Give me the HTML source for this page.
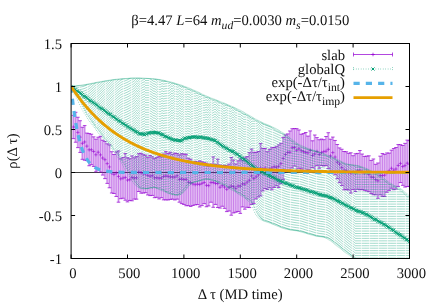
<!DOCTYPE html>
<html><head><meta charset="utf-8"><style>
html,body{margin:0;padding:0;background:#fff}
svg{display:block;will-change:transform}
text{font-family:"Liberation Serif",serif;font-size:14.67px;fill:#000;text-rendering:geometricPrecision}
</style></head><body>
<svg width="436" height="305" viewBox="0 0 436 305">
<rect width="436" height="305" fill="#fff"/>
<path d="M71.1 172.5H409.5" stroke="#000" stroke-width="1" opacity="0.75"/>
<clipPath id="c"><rect x="71.1" y="43.5" width="338.4" height="215"/></clipPath>
<g clip-path="url(#c)">
<path d="M72.23 138.61h2.26V115.34h-2.26zM74.48 142.23h2.26V112.29h-2.26zM76.74 147.64h2.26V117.26h-2.26zM78.99 152.45h2.26V120.73h-2.26zM81.25 159.32h2.26V127.26h-2.26zM83.51 160.23h2.26V125.58h-2.26zM85.76 160.58h2.26V133.08h-2.26zM88.02 165.75h2.26V133.57h-2.26zM90.27 164.7h2.26V134.22h-2.26zM92.53 166.43h2.26V136.86h-2.26zM94.79 171.84h2.26V139.16h-2.26zM97.04 170.12h2.26V137.22h-2.26zM99.3 172.08h2.26V136.34h-2.26zM101.55 175.05h2.26V140.23h-2.26zM103.81 178.63h2.26V141.44h-2.26zM106.07 183.38h2.26V143.83h-2.26zM108.32 187.78h2.26V144.89h-2.26zM110.58 193h2.26V151.74h-2.26zM112.83 193.49h2.26V154.51h-2.26zM115.09 196.47h2.26V151.96h-2.26zM117.35 202.2h2.26V150.92h-2.26zM119.6 198.72h2.26V158.8h-2.26zM121.86 198.22h2.26V157.36h-2.26zM124.11 200.21h2.26V153.6h-2.26zM126.37 201.9h2.26V157.72h-2.26zM128.63 200.44h2.26V158.75h-2.26zM130.88 200.81h2.26V155.9h-2.26zM133.14 199.12h2.26V157.86h-2.26zM135.39 199.16h2.26V156.62h-2.26zM137.65 191.51h2.26V153.7h-2.26zM139.91 193.13h2.26V153.3h-2.26zM142.16 193.05h2.26V154.7h-2.26zM144.42 192.69h2.26V155.23h-2.26zM146.67 194.94h2.26V157.29h-2.26zM148.93 195.62h2.26V155.43h-2.26zM151.19 195.39h2.26V156.85h-2.26zM153.44 197.68h2.26V158.62h-2.26zM155.7 197.32h2.26V157.39h-2.26zM157.95 198.95h2.26V156.29h-2.26zM160.21 197.71h2.26V156.83h-2.26zM162.47 199.85h2.26V153.96h-2.26zM164.72 199.89h2.26V151.61h-2.26zM166.98 199.96h2.26V153.46h-2.26zM169.23 199.38h2.26V152.28h-2.26zM171.49 199.13h2.26V154.21h-2.26zM173.75 199.96h2.26V153.1h-2.26zM176 199.13h2.26V153.6h-2.26zM178.26 202.18h2.26V154.96h-2.26zM180.51 203.64h2.26V153.74h-2.26zM182.77 204.46h2.26V154.03h-2.26zM185.03 205.74h2.26V154.27h-2.26zM187.28 205.61h2.26V158.17h-2.26zM189.54 206.45h2.26V159.27h-2.26zM191.79 205.47h2.26V162.22h-2.26zM194.05 204.81h2.26V161.3h-2.26zM196.31 204.57h2.26V161.93h-2.26zM198.56 206.98h2.26V160.92h-2.26zM200.82 205.61h2.26V161.76h-2.26zM203.07 203.68h2.26V162.73h-2.26zM205.33 206.75h2.26V163.11h-2.26zM207.59 205.92h2.26V165.99h-2.26zM209.84 202.23h2.26V164.03h-2.26zM212.1 207.3h2.26V156.9h-2.26zM214.35 204.42h2.26V164.37h-2.26zM216.61 207.53h2.26V159.18h-2.26zM218.87 208.08h2.26V164.98h-2.26zM221.12 206.26h2.26V165.43h-2.26zM223.38 208.37h2.26V165.29h-2.26zM225.63 211.62h2.26V165.65h-2.26zM227.89 211.01h2.26V164.05h-2.26zM230.15 215.19h2.26V157.52h-2.26zM232.4 212.94h2.26V160.01h-2.26zM234.66 212.23h2.26V163.94h-2.26zM236.91 211.49h2.26V160.86h-2.26zM239.17 213.38h2.26V158.98h-2.26zM241.43 206.93h2.26V160.71h-2.26zM243.68 209.19h2.26V157.84h-2.26zM245.94 207.28h2.26V156.59h-2.26zM248.19 207.56h2.26V152.66h-2.26zM250.45 204.41h2.26V149.02h-2.26zM252.71 203.59h2.26V152.24h-2.26zM254.96 198.91h2.26V152.45h-2.26zM257.22 197h2.26V151.5h-2.26zM259.47 195.87h2.26V143.59h-2.26zM261.73 190.92h2.26V148.38h-2.26zM263.99 188.63h2.26V148.45h-2.26zM266.24 189.6h2.26V151.7h-2.26zM268.5 187.8h2.26V149.41h-2.26zM270.75 189.8h2.26V147.69h-2.26zM273.01 187.47h2.26V147.44h-2.26zM275.27 185.8h2.26V146.74h-2.26zM277.52 187.46h2.26V144.92h-2.26zM279.78 183.76h2.26V143.28h-2.26zM282.03 179.38h2.26V137.56h-2.26zM284.29 171.78h2.26V134.96h-2.26zM286.55 170.79h2.26V133.92h-2.26zM288.8 171.27h2.26V130.98h-2.26zM291.06 167.93h2.26V128.74h-2.26zM293.31 166.02h2.26V128.56h-2.26zM295.57 170.85h2.26V128.65h-2.26zM297.83 168.31h2.26V129.97h-2.26zM300.08 168.9h2.26V134.28h-2.26zM302.34 170.49h2.26V133.55h-2.26zM304.59 171.71h2.26V132.53h-2.26zM306.85 169.95h2.26V136.1h-2.26zM309.11 171.97h2.26V130.92h-2.26zM311.36 167.59h2.26V140.8h-2.26zM313.62 171.82h2.26V135h-2.26zM315.87 165.63h2.26V137.61h-2.26zM318.13 168.27h2.26V139.75h-2.26zM320.39 165.55h2.26V139.06h-2.26zM322.64 166h2.26V139.66h-2.26zM324.9 165.41h2.26V136.5h-2.26zM327.15 168.61h2.26V132.72h-2.26zM329.41 171.09h2.26V139.2h-2.26zM331.67 171.69h2.26V137.09h-2.26zM333.92 174.8h2.26V140.46h-2.26zM336.18 178.7h2.26V144.49h-2.26zM338.43 182.66h2.26V147.92h-2.26zM340.69 185.58h2.26V149.25h-2.26zM342.95 189.8h2.26V151.51h-2.26zM345.2 189.65h2.26V151.77h-2.26zM347.46 190.04h2.26V153.29h-2.26zM349.71 193.07h2.26V152.8h-2.26zM351.97 189.57h2.26V155.71h-2.26zM354.23 191.47h2.26V153.78h-2.26zM356.48 189.22h2.26V153.42h-2.26zM358.74 189.84h2.26V150.52h-2.26zM360.99 189.43h2.26V154.04h-2.26zM363.25 190.32h2.26V156.43h-2.26zM365.51 191.01h2.26V156.11h-2.26zM367.76 191.7h2.26V155.83h-2.26zM370.02 193.55h2.26V160.42h-2.26zM372.27 194.74h2.26V158.99h-2.26zM374.53 194.83h2.26V164.3h-2.26zM376.79 198.3h2.26V163h-2.26zM379.04 194.87h2.26V156.16h-2.26zM381.3 196.39h2.26V153.54h-2.26zM383.55 196.41h2.26V154.36h-2.26zM385.81 192.28h2.26V152.95h-2.26zM388.07 190.4h2.26V153.08h-2.26zM390.32 188.24h2.26V150.19h-2.26zM392.58 189.74h2.26V148.53h-2.26zM394.83 189.11h2.26V147.5h-2.26zM397.09 186.45h2.26V144.59h-2.26zM399.35 182.58h2.26V144.66h-2.26zM401.6 185.34h2.26V145.49h-2.26zM403.86 187.07h2.26V143.36h-2.26zM406.11 186.56h2.26V140.14h-2.26zM408.37 186.37h2.26V140.67h-2.26z" fill="#9400d3" fill-opacity="0.26" stroke="none"/>
<g stroke="#9400d3" stroke-width="0.9" fill="none"><path stroke-opacity="0.36" d="M73.36 138.61V115.34M75.61 142.23V112.29M77.87 147.64V117.26M80.12 152.45V120.73M82.38 159.32V127.26M84.64 160.23V125.58M86.89 160.58V133.08M89.15 165.75V133.57M91.4 164.7V134.22M93.66 166.43V136.86M95.92 171.84V139.16M98.17 170.12V137.22M100.43 172.08V136.34M102.68 175.05V140.23M104.94 178.63V141.44M107.2 183.38V143.83M109.45 187.78V144.89M111.71 193V151.74M113.96 193.49V154.51M116.22 196.47V151.96M118.48 202.2V150.92M120.73 198.72V158.8M122.99 198.22V157.36M125.24 200.21V153.6M127.5 201.9V157.72M129.76 200.44V158.75M132.01 200.81V155.9M134.27 199.12V157.86M136.52 199.16V156.62M138.78 191.51V153.7M141.04 193.13V153.3M143.29 193.05V154.7M145.55 192.69V155.23M147.8 194.94V157.29M150.06 195.62V155.43M152.32 195.39V156.85M154.57 197.68V158.62M156.83 197.32V157.39M159.08 198.95V156.29M161.34 197.71V156.83M163.6 199.85V153.96M165.85 199.89V151.61M168.11 199.96V153.46M170.36 199.38V152.28M172.62 199.13V154.21M174.88 199.96V153.1M177.13 199.13V153.6M179.39 202.18V154.96M181.64 203.64V153.74M183.9 204.46V154.03M186.16 205.74V154.27M188.41 205.61V158.17M190.67 206.45V159.27M192.92 205.47V162.22M195.18 204.81V161.3M197.44 204.57V161.93M199.69 206.98V160.92M201.95 205.61V161.76M204.2 203.68V162.73M206.46 206.75V163.11M208.72 205.92V165.99M210.97 202.23V164.03M213.23 207.3V156.9M215.48 204.42V164.37M217.74 207.53V159.18M220 208.08V164.98M222.25 206.26V165.43M224.51 208.37V165.29M226.76 211.62V165.65M229.02 211.01V164.05M231.28 215.19V157.52M233.53 212.94V160.01M235.79 212.23V163.94M238.04 211.49V160.86M240.3 213.38V158.98M242.56 206.93V160.71M244.81 209.19V157.84M247.07 207.28V156.59M249.32 207.56V152.66M251.58 204.41V149.02M253.84 203.59V152.24M256.09 198.91V152.45M258.35 197V151.5M260.6 195.87V143.59M262.86 190.92V148.38M265.12 188.63V148.45M267.37 189.6V151.7M269.63 187.8V149.41M271.88 189.8V147.69M274.14 187.47V147.44M276.4 185.8V146.74M278.65 187.46V144.92M280.91 183.76V143.28M283.16 179.38V137.56M285.42 171.78V134.96M287.68 170.79V133.92M289.93 171.27V130.98M292.19 167.93V128.74M294.44 166.02V128.56M296.7 170.85V128.65M298.96 168.31V129.97M301.21 168.9V134.28M303.47 170.49V133.55M305.72 171.71V132.53M307.98 169.95V136.1M310.24 171.97V130.92M312.49 167.59V140.8M314.75 171.82V135M317 165.63V137.61M319.26 168.27V139.75M321.52 165.55V139.06M323.77 166V139.66M326.03 165.41V136.5M328.28 168.61V132.72M330.54 171.09V139.2M332.8 171.69V137.09M335.05 174.8V140.46M337.31 178.7V144.49M339.56 182.66V147.92M341.82 185.58V149.25M344.08 189.8V151.51M346.33 189.65V151.77M348.59 190.04V153.29M350.84 193.07V152.8M353.1 189.57V155.71M355.36 191.47V153.78M357.61 189.22V153.42M359.87 189.84V150.52M362.12 189.43V154.04M364.38 190.32V156.43M366.64 191.01V156.11M368.89 191.7V155.83M371.15 193.55V160.42M373.4 194.74V158.99M375.66 194.83V164.3M377.92 198.3V163M380.17 194.87V156.16M382.43 196.39V153.54M384.68 196.41V154.36M386.94 192.28V152.95M389.2 190.4V153.08M391.45 188.24V150.19M393.71 189.74V148.53M395.96 189.11V147.5M398.22 186.45V144.59M400.48 182.58V144.66M402.73 185.34V145.49M404.99 187.07V143.36M407.24 186.56V140.14M409.5 186.37V140.67"/><path stroke-opacity="0.8" d="M71.56 138.61h3.6M71.56 115.34h3.6M73.81 142.23h3.6M73.81 112.29h3.6M76.07 147.64h3.6M76.07 117.26h3.6M78.32 152.45h3.6M78.32 120.73h3.6M80.58 159.32h3.6M80.58 127.26h3.6M82.84 160.23h3.6M82.84 125.58h3.6M85.09 160.58h3.6M85.09 133.08h3.6M87.35 165.75h3.6M87.35 133.57h3.6M89.6 164.7h3.6M89.6 134.22h3.6M91.86 166.43h3.6M91.86 136.86h3.6M94.12 171.84h3.6M94.12 139.16h3.6M96.37 170.12h3.6M96.37 137.22h3.6M98.63 172.08h3.6M98.63 136.34h3.6M100.88 175.05h3.6M100.88 140.23h3.6M103.14 178.63h3.6M103.14 141.44h3.6M105.4 183.38h3.6M105.4 143.83h3.6M107.65 187.78h3.6M107.65 144.89h3.6M109.91 193h3.6M109.91 151.74h3.6M112.16 193.49h3.6M112.16 154.51h3.6M114.42 196.47h3.6M114.42 151.96h3.6M116.68 202.2h3.6M116.68 150.92h3.6M118.93 198.72h3.6M118.93 158.8h3.6M121.19 198.22h3.6M121.19 157.36h3.6M123.44 200.21h3.6M123.44 153.6h3.6M125.7 201.9h3.6M125.7 157.72h3.6M127.96 200.44h3.6M127.96 158.75h3.6M130.21 200.81h3.6M130.21 155.9h3.6M132.47 199.12h3.6M132.47 157.86h3.6M134.72 199.16h3.6M134.72 156.62h3.6M136.98 191.51h3.6M136.98 153.7h3.6M139.24 193.13h3.6M139.24 153.3h3.6M141.49 193.05h3.6M141.49 154.7h3.6M143.75 192.69h3.6M143.75 155.23h3.6M146 194.94h3.6M146 157.29h3.6M148.26 195.62h3.6M148.26 155.43h3.6M150.52 195.39h3.6M150.52 156.85h3.6M152.77 197.68h3.6M152.77 158.62h3.6M155.03 197.32h3.6M155.03 157.39h3.6M157.28 198.95h3.6M157.28 156.29h3.6M159.54 197.71h3.6M159.54 156.83h3.6M161.8 199.85h3.6M161.8 153.96h3.6M164.05 199.89h3.6M164.05 151.61h3.6M166.31 199.96h3.6M166.31 153.46h3.6M168.56 199.38h3.6M168.56 152.28h3.6M170.82 199.13h3.6M170.82 154.21h3.6M173.08 199.96h3.6M173.08 153.1h3.6M175.33 199.13h3.6M175.33 153.6h3.6M177.59 202.18h3.6M177.59 154.96h3.6M179.84 203.64h3.6M179.84 153.74h3.6M182.1 204.46h3.6M182.1 154.03h3.6M184.36 205.74h3.6M184.36 154.27h3.6M186.61 205.61h3.6M186.61 158.17h3.6M188.87 206.45h3.6M188.87 159.27h3.6M191.12 205.47h3.6M191.12 162.22h3.6M193.38 204.81h3.6M193.38 161.3h3.6M195.64 204.57h3.6M195.64 161.93h3.6M197.89 206.98h3.6M197.89 160.92h3.6M200.15 205.61h3.6M200.15 161.76h3.6M202.4 203.68h3.6M202.4 162.73h3.6M204.66 206.75h3.6M204.66 163.11h3.6M206.92 205.92h3.6M206.92 165.99h3.6M209.17 202.23h3.6M209.17 164.03h3.6M211.43 207.3h3.6M211.43 156.9h3.6M213.68 204.42h3.6M213.68 164.37h3.6M215.94 207.53h3.6M215.94 159.18h3.6M218.2 208.08h3.6M218.2 164.98h3.6M220.45 206.26h3.6M220.45 165.43h3.6M222.71 208.37h3.6M222.71 165.29h3.6M224.96 211.62h3.6M224.96 165.65h3.6M227.22 211.01h3.6M227.22 164.05h3.6M229.48 215.19h3.6M229.48 157.52h3.6M231.73 212.94h3.6M231.73 160.01h3.6M233.99 212.23h3.6M233.99 163.94h3.6M236.24 211.49h3.6M236.24 160.86h3.6M238.5 213.38h3.6M238.5 158.98h3.6M240.76 206.93h3.6M240.76 160.71h3.6M243.01 209.19h3.6M243.01 157.84h3.6M245.27 207.28h3.6M245.27 156.59h3.6M247.52 207.56h3.6M247.52 152.66h3.6M249.78 204.41h3.6M249.78 149.02h3.6M252.04 203.59h3.6M252.04 152.24h3.6M254.29 198.91h3.6M254.29 152.45h3.6M256.55 197h3.6M256.55 151.5h3.6M258.8 195.87h3.6M258.8 143.59h3.6M261.06 190.92h3.6M261.06 148.38h3.6M263.32 188.63h3.6M263.32 148.45h3.6M265.57 189.6h3.6M265.57 151.7h3.6M267.83 187.8h3.6M267.83 149.41h3.6M270.08 189.8h3.6M270.08 147.69h3.6M272.34 187.47h3.6M272.34 147.44h3.6M274.6 185.8h3.6M274.6 146.74h3.6M276.85 187.46h3.6M276.85 144.92h3.6M279.11 183.76h3.6M279.11 143.28h3.6M281.36 179.38h3.6M281.36 137.56h3.6M283.62 171.78h3.6M283.62 134.96h3.6M285.88 170.79h3.6M285.88 133.92h3.6M288.13 171.27h3.6M288.13 130.98h3.6M290.39 167.93h3.6M290.39 128.74h3.6M292.64 166.02h3.6M292.64 128.56h3.6M294.9 170.85h3.6M294.9 128.65h3.6M297.16 168.31h3.6M297.16 129.97h3.6M299.41 168.9h3.6M299.41 134.28h3.6M301.67 170.49h3.6M301.67 133.55h3.6M303.92 171.71h3.6M303.92 132.53h3.6M306.18 169.95h3.6M306.18 136.1h3.6M308.44 171.97h3.6M308.44 130.92h3.6M310.69 167.59h3.6M310.69 140.8h3.6M312.95 171.82h3.6M312.95 135h3.6M315.2 165.63h3.6M315.2 137.61h3.6M317.46 168.27h3.6M317.46 139.75h3.6M319.72 165.55h3.6M319.72 139.06h3.6M321.97 166h3.6M321.97 139.66h3.6M324.23 165.41h3.6M324.23 136.5h3.6M326.48 168.61h3.6M326.48 132.72h3.6M328.74 171.09h3.6M328.74 139.2h3.6M331 171.69h3.6M331 137.09h3.6M333.25 174.8h3.6M333.25 140.46h3.6M335.51 178.7h3.6M335.51 144.49h3.6M337.76 182.66h3.6M337.76 147.92h3.6M340.02 185.58h3.6M340.02 149.25h3.6M342.28 189.8h3.6M342.28 151.51h3.6M344.53 189.65h3.6M344.53 151.77h3.6M346.79 190.04h3.6M346.79 153.29h3.6M349.04 193.07h3.6M349.04 152.8h3.6M351.3 189.57h3.6M351.3 155.71h3.6M353.56 191.47h3.6M353.56 153.78h3.6M355.81 189.22h3.6M355.81 153.42h3.6M358.07 189.84h3.6M358.07 150.52h3.6M360.32 189.43h3.6M360.32 154.04h3.6M362.58 190.32h3.6M362.58 156.43h3.6M364.84 191.01h3.6M364.84 156.11h3.6M367.09 191.7h3.6M367.09 155.83h3.6M369.35 193.55h3.6M369.35 160.42h3.6M371.6 194.74h3.6M371.6 158.99h3.6M373.86 194.83h3.6M373.86 164.3h3.6M376.12 198.3h3.6M376.12 163h3.6M378.37 194.87h3.6M378.37 156.16h3.6M380.63 196.39h3.6M380.63 153.54h3.6M382.88 196.41h3.6M382.88 154.36h3.6M385.14 192.28h3.6M385.14 152.95h3.6M387.4 190.4h3.6M387.4 153.08h3.6M389.65 188.24h3.6M389.65 150.19h3.6M391.91 189.74h3.6M391.91 148.53h3.6M394.16 189.11h3.6M394.16 147.5h3.6M396.42 186.45h3.6M396.42 144.59h3.6M398.68 182.58h3.6M398.68 144.66h3.6M400.93 185.34h3.6M400.93 145.49h3.6M403.19 187.07h3.6M403.19 143.36h3.6M405.44 186.56h3.6M405.44 140.14h3.6M407.7 186.37h3.6M407.7 140.67h3.6"/><path stroke-opacity="0.6" d="M69.4 86.5h3.4M71.1 84.8v3.4M71.66 127.03h3.4M73.36 125.33v3.4M73.91 127.05h3.4M75.61 125.35v3.4M76.17 132.42h3.4M77.87 130.72v3.4M78.42 137.12h3.4M80.12 135.42v3.4M80.68 143.32h3.4M82.38 141.62v3.4M82.94 141.98h3.4M84.64 140.28v3.4M85.19 146.12h3.4M86.89 144.42v3.4M87.45 149.8h3.4M89.15 148.1v3.4M89.7 149.83h3.4M91.4 148.13v3.4M91.96 151.51h3.4M93.66 149.81v3.4M94.22 154.75h3.4M95.92 153.05v3.4M96.47 152.22h3.4M98.17 150.52v3.4M98.73 154.88h3.4M100.43 153.18v3.4M100.98 158.02h3.4M102.68 156.32v3.4M103.24 159.68h3.4M104.94 157.98v3.4M105.5 163.62h3.4M107.2 161.92v3.4M107.75 166.94h3.4M109.45 165.24v3.4M110.01 173.04h3.4M111.71 171.34v3.4M112.26 174.51h3.4M113.96 172.81v3.4M114.52 173.07h3.4M116.22 171.37v3.4M116.78 176.44h3.4M118.48 174.74v3.4M119.03 178.85h3.4M120.73 177.15v3.4M121.29 178.05h3.4M122.99 176.35v3.4M123.54 177.44h3.4M125.24 175.74v3.4M125.8 180.1h3.4M127.5 178.4v3.4M128.06 179.74h3.4M129.76 178.04v3.4M130.31 177.53h3.4M132.01 175.83v3.4M132.57 177.99h3.4M134.27 176.29v3.4M134.82 177.88h3.4M136.52 176.18v3.4M137.08 172.02h3.4M138.78 170.32v3.4M139.34 172.64h3.4M141.04 170.94v3.4M141.59 173.81h3.4M143.29 172.11v3.4M143.85 173.78h3.4M145.55 172.08v3.4M146.1 175.34h3.4M147.8 173.64v3.4M148.36 176.26h3.4M150.06 174.56v3.4M150.62 175.68h3.4M152.32 173.98v3.4M152.87 177.84h3.4M154.57 176.14v3.4M155.13 177.79h3.4M156.83 176.09v3.4M157.38 178.13h3.4M159.08 176.43v3.4M159.64 178.08h3.4M161.34 176.38v3.4M161.9 176.45h3.4M163.6 174.75v3.4M164.15 175.92h3.4M165.85 174.22v3.4M166.41 176.32h3.4M168.11 174.62v3.4M168.66 176.97h3.4M170.36 175.27v3.4M170.92 177.01h3.4M172.62 175.31v3.4M173.18 177.05h3.4M174.88 175.35v3.4M175.43 175.82h3.4M177.13 174.12v3.4M177.69 179.32h3.4M179.39 177.62v3.4M179.94 178.95h3.4M181.64 177.25v3.4M182.2 179.54h3.4M183.9 177.84v3.4M184.46 179.27h3.4M186.16 177.57v3.4M186.71 182.15h3.4M188.41 180.45v3.4M188.97 182.78h3.4M190.67 181.08v3.4M191.22 183.89h3.4M192.92 182.19v3.4M193.48 184.66h3.4M195.18 182.96v3.4M195.74 184.09h3.4M197.44 182.39v3.4M197.99 184.47h3.4M199.69 182.77v3.4M200.25 183.36h3.4M201.95 181.66v3.4M202.5 182.46h3.4M204.2 180.76v3.4M204.76 185.31h3.4M206.46 183.61v3.4M207.02 185.65h3.4M208.72 183.95v3.4M209.27 182.56h3.4M210.97 180.86v3.4M211.53 182.49h3.4M213.23 180.79v3.4M213.78 183.47h3.4M215.48 181.77v3.4M216.04 183.62h3.4M217.74 181.92v3.4M218.3 187.25h3.4M220 185.55v3.4M220.55 185.65h3.4M222.25 183.95v3.4M222.81 187.12h3.4M224.51 185.42v3.4M225.06 189.32h3.4M226.76 187.62v3.4M227.32 187.3h3.4M229.02 185.6v3.4M229.58 186.08h3.4M231.28 184.38v3.4M231.83 186.63h3.4M233.53 184.93v3.4M234.09 188.32h3.4M235.79 186.62v3.4M236.34 186.08h3.4M238.04 184.38v3.4M238.6 186.08h3.4M240.3 184.38v3.4M240.86 183.83h3.4M242.56 182.13v3.4M243.11 184.17h3.4M244.81 182.47v3.4M245.37 182.2h3.4M247.07 180.5v3.4M247.62 180.29h3.4M249.32 178.59v3.4M249.88 175.94h3.4M251.58 174.24v3.4M252.14 178.56h3.4M253.84 176.86v3.4M254.39 176.81h3.4M256.09 175.11v3.4M256.65 174.9h3.4M258.35 173.2v3.4M258.9 168.32h3.4M260.6 166.62v3.4M261.16 169.1h3.4M262.86 167.4v3.4M263.42 168.15h3.4M265.12 166.45v3.4M265.67 170.62h3.4M267.37 168.92v3.4M267.93 169.14h3.4M269.63 167.44v3.4M270.18 167.89h3.4M271.88 166.19v3.4M272.44 166.76h3.4M274.14 165.06v3.4M274.7 167.24h3.4M276.4 165.54v3.4M276.95 166.24h3.4M278.65 164.54v3.4M279.21 163.56h3.4M280.91 161.86v3.4M281.46 158.44h3.4M283.16 156.74v3.4M283.72 154.47h3.4M285.42 152.77v3.4M285.98 152.35h3.4M287.68 150.65v3.4M288.23 152.26h3.4M289.93 150.56v3.4M290.49 147.7h3.4M292.19 146v3.4M292.74 147.51h3.4M294.44 145.81v3.4M295 150.3h3.4M296.7 148.6v3.4M297.26 148.78h3.4M298.96 147.08v3.4M299.51 150.69h3.4M301.21 148.99v3.4M301.77 151.62h3.4M303.47 149.92v3.4M304.02 152.39h3.4M305.72 150.69v3.4M306.28 152.93h3.4M307.98 151.23v3.4M308.54 150.37h3.4M310.24 148.67v3.4M310.79 155.4h3.4M312.49 153.7v3.4M313.05 153.96h3.4M314.75 152.26v3.4M315.3 151.42h3.4M317 149.72v3.4M317.56 154.48h3.4M319.26 152.78v3.4M319.82 152.48h3.4M321.52 150.78v3.4M322.07 151.61h3.4M323.77 149.91v3.4M324.33 151.21h3.4M326.03 149.51v3.4M326.58 149.34h3.4M328.28 147.64v3.4M328.84 155.92h3.4M330.54 154.22v3.4M331.1 152.6h3.4M332.8 150.9v3.4M333.35 157.03h3.4M335.05 155.33v3.4M335.61 162.16h3.4M337.31 160.46v3.4M337.86 164.12h3.4M339.56 162.42v3.4M340.12 167.59h3.4M341.82 165.89v3.4M342.38 170.13h3.4M344.08 168.43v3.4M344.63 170.57h3.4M346.33 168.87v3.4M346.89 172.52h3.4M348.59 170.82v3.4M349.14 172.91h3.4M350.84 171.21v3.4M351.4 172.95h3.4M353.1 171.25v3.4M353.66 173.34h3.4M355.36 171.64v3.4M355.91 170.72h3.4M357.61 169.02v3.4M358.17 170.24h3.4M359.87 168.54v3.4M360.42 171.51h3.4M362.12 169.81v3.4M362.68 173.08h3.4M364.38 171.38v3.4M364.94 171.95h3.4M366.64 170.25v3.4M367.19 174.42h3.4M368.89 172.72v3.4M369.45 177.04h3.4M371.15 175.34v3.4M371.7 177.33h3.4M373.4 175.63v3.4M373.96 179.71h3.4M375.66 178.01v3.4M376.22 180.8h3.4M377.92 179.1v3.4M378.47 175.3h3.4M380.17 173.6v3.4M380.73 175.61h3.4M382.43 173.91v3.4M382.98 175.12h3.4M384.68 173.42v3.4M385.24 172.64h3.4M386.94 170.94v3.4M387.5 170.62h3.4M389.2 168.92v3.4M389.75 168.31h3.4M391.45 166.61v3.4M392.01 170.14h3.4M393.71 168.44v3.4M394.26 169.01h3.4M395.96 167.31v3.4M396.52 165.49h3.4M398.22 163.79v3.4M398.78 163.41h3.4M400.48 161.71v3.4M401.03 166.52h3.4M402.73 164.82v3.4M403.29 165.61h3.4M404.99 163.91v3.4M405.54 163.14h3.4M407.24 161.44v3.4M407.8 164.25h3.4M409.5 162.55v3.4"/></g>
<g stroke="#009e73" stroke-width="1" fill="none"><path stroke-dasharray="1 1.45" stroke-opacity="0.38" d="M72.38 88.38V86.38M73.44 90.26V86.26M74.49 92.15V86.13M75.55 94.04V86.01M76.61 95.98V85.89M77.67 98V85.77M78.72 100.1V85.65M80.33 102.28V85.52M81.39 104.5V85.39M82.45 106.71V85.26M83.5 108.89V85.11M84.56 110.99V84.95M85.62 113.01V84.77M86.68 114.93V84.58M88.28 116.74V84.38M89.34 118.42V84.16M90.4 120V83.94M91.46 121.53V83.72M92.51 123.03V83.49M93.57 124.53V83.27M94.63 126.01V83.04M95.69 127.48V82.82M97.29 128.95V82.6M98.35 130.41V82.38M99.41 131.88V82.17M100.47 133.34V81.96M101.53 134.8V81.76M102.58 136.24V81.56M103.64 137.65V81.37M104.7 139.02V81.18M106.31 140.35V80.99M107.36 141.65V80.8M108.42 142.95V80.61M109.48 144.27V80.43M110.54 145.62V80.24M111.59 147.01V80.06M112.65 148.46V79.89M113.71 149.93V79.73M115.32 151.42V79.59M116.37 152.93V79.46M117.43 154.46V79.34M118.49 156.02V79.24M119.55 157.62V79.14M120.6 159.29V79.05M121.66 161.06V78.96M122.72 162.94V78.87M124.33 164.92V78.78M125.38 166.94V78.69M126.44 168.97V78.6M127.5 170.95V78.51M128.56 172.87V78.43M129.62 174.72V78.34M130.67 176.52V78.27M132.28 178.28V78.2M133.34 179.99V78.15M134.4 181.61V78.12M135.45 182.9V78.11M136.51 184.26V78.11M137.57 185.08V78.13M138.63 186.48V78.15M139.68 187.64V78.19M141.29 186.82V78.22M142.35 188.49V78.26M143.41 188.07V78.29M144.46 187.64V78.33M145.52 188.77V78.37M146.58 188.84V78.41M147.64 188.77V78.46M148.69 188.77V78.52M150.3 187.51V78.59M151.36 188.02V78.68M152.42 188.82V78.78M153.47 187.12V78.89M154.53 187.26V79.01M155.59 187.83V79.14M156.65 188.63V79.28M157.71 187.58V79.43M159.31 188.04V79.59M160.37 187.99V79.79M161.43 189.71V80M162.49 189.55V80.23M163.54 190.03V80.49M164.6 189.75V80.75M165.66 192.02V81.02M166.72 191.88V81.29M168.32 191.89V81.57M169.38 193.86V81.85M170.44 192.94V82.14M171.5 194.41V82.45M172.55 194.58V82.76M173.61 193.84V83.09M174.67 195.03V83.43M176.28 195V83.78M177.33 195.6V84.14M178.39 195.11V84.5M179.45 194.14V84.86M180.51 194.74V85.24M181.56 193.22V85.62M182.62 192.67V86.03M183.68 191.31V86.45M185.29 190.48V86.88M186.35 188.4V87.33M187.4 187.73V87.79M188.46 185.52V88.26M189.52 183.35V88.73M190.58 184.15V89.2M191.63 183.06V89.68M192.69 182.94V90.16M194.3 182.22V90.66M195.36 182.42V91.16M196.41 181.83V91.69M197.47 182.09V92.22M198.53 181.13V92.76M199.59 180.46V93.31M200.64 180.76V93.85M201.7 179.91V94.4M203.31 179.31V94.94M204.37 179.43V95.47M205.42 179V95.98M206.48 178.83V96.48M207.54 179.37V96.95M208.6 178.62V97.41M209.65 179.69V97.86M210.71 178.73V98.3M212.32 179.76V98.74M213.38 179.18V99.17M214.44 180.97V99.61M215.49 181.03V100.04M216.55 181.93V100.48M217.61 183.2V100.93M218.67 181.82V101.37M219.72 182.13V101.83M221.33 182.54V102.28M222.39 183.45V102.74M223.45 184.76V103.2M224.5 184.89V103.67M225.56 184.34V104.13M226.62 186.27V104.6M227.68 187.15V105.08M229.28 187.36V105.56M230.34 188.03V106.05M231.4 187.37V106.55M232.46 188.81V107.05M233.51 189.23V107.56M234.57 190.66V108.08M235.63 191.71V108.6M236.69 191.88V109.13M238.29 192.91V109.67M239.35 193.08V110.23M240.41 193.24V110.82M241.47 194.39V111.44M242.53 194.97V112.07M243.58 195.84V112.73M244.64 196.03V113.39M245.7 198.3V114.06M247.31 199.02V114.73M248.36 199.4V115.4M249.42 200.24V116.05M250.48 201.35V116.7M251.54 202.9V117.34M252.59 204.98V117.98M253.65 207.47V118.6M254.71 210.03V119.22M256.32 212.33V119.84M257.37 214.2V120.44M258.43 215.71V121.03M259.49 216.99V121.6M260.55 218.11V122.15M261.6 219.07V122.67M262.66 219.81V123.18M263.72 220.38V123.67M265.33 220.83V124.16M266.38 221.23V124.64M267.44 221.61V125.12M268.5 222V125.61M269.56 222.4V126.1M270.62 222.81V126.6M271.67 223.22V127.12M273.28 223.65V127.67M274.34 224.09V128.25M275.4 224.55V128.85M276.45 225.02V129.48M277.51 225.5V130.11M278.57 225.98V130.76M279.63 226.45V131.41M280.68 226.89V132.07M282.29 227.31V132.75M283.35 227.71V133.46M284.41 228.09V134.2M285.46 228.45V134.99M286.52 228.78V135.83M287.58 229.08V136.71M288.64 229.34V137.61M289.69 229.58V138.53M291.3 229.8V139.45M292.36 230V140.37M293.42 230.19V141.26M294.47 230.35V142.1M295.53 230.49V142.88M296.59 230.63V143.6M297.65 230.77V144.25M298.71 230.94V144.85M300.31 231.16V145.4M301.37 231.44V145.93M302.43 231.76V146.45M303.49 232.11V146.95M304.54 232.45V147.44M305.6 232.79V147.92M306.66 233.12V148.37M307.72 233.44V148.8M309.32 233.76V149.19M310.38 234.08V149.55M311.44 234.41V149.89M312.5 234.73V150.22M313.55 235.05V150.53M314.61 235.37V150.85M315.67 235.67V151.18M317.28 235.96V151.51M318.33 236.19V151.87M319.39 236.38V152.25M320.45 236.53V152.66M321.51 236.65V153.1M322.56 236.78V153.54M323.62 236.94V154.01M324.68 237.16V154.47M326.29 237.46V154.94M327.35 237.87V155.42M328.4 238.4V155.89M329.46 239.04V156.36M330.52 239.76V156.84M331.58 240.53V157.32M332.63 241.34V157.81M333.69 242.18V158.31M335.3 243.06V158.83M336.36 243.95V159.37M337.41 244.85V159.93M338.47 245.75V160.49M339.53 246.64V161.07M340.59 247.54V161.64M341.64 248.43V162.2M342.7 249.31V162.73M344.31 250.2V163.23M345.37 251.07V163.66M346.42 251.93V164.02M347.48 252.76V164.3M348.54 253.57V164.52M349.6 254.36V164.69M350.65 255.15V164.82M351.71 255.97V164.95M353.32 256.83V165.06M354.38 257.72V165.19M355.44 258.5V165.34M356.49 258.5V165.53M357.55 258.5V165.76M358.61 258.5V166.06M359.67 258.5V166.4M360.72 258.5V166.79M362.33 258.5V167.22M363.39 258.5V167.66M364.45 258.5V168.12M365.5 258.5V168.59M366.56 258.5V169.07M367.62 258.5V169.57M368.68 258.5V170.09M370.28 258.5V170.63M371.34 258.5V171.2M372.4 258.5V171.78M373.46 258.5V172.37M374.51 258.5V172.98M375.57 258.5V173.59M376.63 258.5V174.23M377.69 258.5V174.88M379.29 258.5V175.58M380.35 258.5V176.32M381.41 258.5V177.11M382.47 258.5V177.95M383.53 258.5V178.81M384.58 258.5V179.7M385.64 258.5V180.58M386.7 258.5V181.45M388.31 258.5V182.29M389.36 258.5V183.07M390.42 258.5V183.8M391.48 258.5V184.46M392.54 258.5V185.06M393.59 258.5V185.63M394.65 258.5V186.18M395.71 258.5V186.72M397.32 258.5V187.29M398.37 258.5V187.9M399.43 258.5V188.58M400.49 258.5V189.33M401.55 258.5V190.16M402.6 258.5V191.06M403.66 258.5V192M404.72 258.5V192.98M406.33 258.5V193.98M407.38 258.5V194.98M408.44 258.5V195.99M409.5 258.5V197"/><path stroke-dasharray="0.8 1.65" stroke-opacity="0.42" d="M70.23 86.38h4M70.23 88.38h4M71.36 86.26h4M71.36 90.26h4M72.48 86.13h4M72.48 92.15h4M73.61 86.01h4M73.61 94.04h4M74.74 85.89h4M74.74 95.98h4M75.87 85.77h4M75.87 98h4M77 85.65h4M77 100.1h4M78.12 85.52h4M78.12 102.28h4M79.25 85.39h4M79.25 104.5h4M80.38 85.26h4M80.38 106.71h4M81.51 85.11h4M81.51 108.89h4M82.64 84.95h4M82.64 110.99h4M83.76 84.77h4M83.76 113.01h4M84.89 84.58h4M84.89 114.93h4M86.02 84.38h4M86.02 116.74h4M87.15 84.16h4M87.15 118.42h4M88.28 83.94h4M88.28 120h4M89.4 83.72h4M89.4 121.53h4M90.53 83.49h4M90.53 123.03h4M91.66 83.27h4M91.66 124.53h4M92.79 83.04h4M92.79 126.01h4M93.92 82.82h4M93.92 127.48h4M95.04 82.6h4M95.04 128.95h4M96.17 82.38h4M96.17 130.41h4M97.3 82.17h4M97.3 131.88h4M98.43 81.96h4M98.43 133.34h4M99.56 81.76h4M99.56 134.8h4M100.68 81.56h4M100.68 136.24h4M101.81 81.37h4M101.81 137.65h4M102.94 81.18h4M102.94 139.02h4M104.07 80.99h4M104.07 140.35h4M105.2 80.8h4M105.2 141.65h4M106.32 80.61h4M106.32 142.95h4M107.45 80.43h4M107.45 144.27h4M108.58 80.24h4M108.58 145.62h4M109.71 80.06h4M109.71 147.01h4M110.84 79.89h4M110.84 148.46h4M111.96 79.73h4M111.96 149.93h4M113.09 79.59h4M113.09 151.42h4M114.22 79.46h4M114.22 152.93h4M115.35 79.34h4M115.35 154.46h4M116.48 79.24h4M116.48 156.02h4M117.6 79.14h4M117.6 157.62h4M118.73 79.05h4M118.73 159.29h4M119.86 78.96h4M119.86 161.06h4M120.99 78.87h4M120.99 162.94h4M122.12 78.78h4M122.12 164.92h4M123.24 78.69h4M123.24 166.94h4M124.37 78.6h4M124.37 168.97h4M125.5 78.51h4M125.5 170.95h4M126.63 78.43h4M126.63 172.87h4M127.76 78.34h4M127.76 174.72h4M128.88 78.27h4M128.88 176.52h4M130.01 78.2h4M130.01 178.28h4M131.14 78.15h4M131.14 179.99h4M132.27 78.12h4M132.27 181.61h4M133.4 78.11h4M133.4 183.08h4M134.52 78.11h4M134.52 184.39h4M135.65 78.13h4M135.65 185.56h4M136.78 78.15h4M136.78 186.57h4M137.91 78.19h4M137.91 187.38h4M139.04 78.22h4M139.04 187.96h4M140.16 78.26h4M140.16 188.34h4M141.29 78.29h4M141.29 188.57h4M142.42 78.33h4M142.42 188.69h4M143.55 78.37h4M143.55 188.69h4M144.68 78.41h4M144.68 188.59h4M145.8 78.46h4M145.8 188.42h4M146.93 78.52h4M146.93 188.21h4M148.06 78.59h4M148.06 187.99h4M149.19 78.68h4M149.19 187.77h4M150.32 78.78h4M150.32 187.57h4M151.44 78.89h4M151.44 187.43h4M152.57 79.01h4M152.57 187.41h4M153.7 79.14h4M153.7 187.54h4M154.83 79.28h4M154.83 187.82h4M155.96 79.43h4M155.96 188.21h4M157.08 79.59h4M157.08 188.65h4M158.21 79.79h4M158.21 189.12h4M159.34 80h4M159.34 189.6h4M160.47 80.23h4M160.47 190.09h4M161.6 80.49h4M161.6 190.58h4M162.72 80.75h4M162.72 191.08h4M163.85 81.02h4M163.85 191.57h4M164.98 81.29h4M164.98 192.07h4M166.11 81.57h4M166.11 192.55h4M167.24 81.85h4M167.24 193.01h4M168.36 82.14h4M168.36 193.43h4M169.49 82.45h4M169.49 193.82h4M170.62 82.76h4M170.62 194.17h4M171.75 83.09h4M171.75 194.5h4M172.88 83.43h4M172.88 194.79h4M174 83.78h4M174 194.97h4M175.13 84.14h4M175.13 194.98h4M176.26 84.5h4M176.26 194.78h4M177.39 84.86h4M177.39 194.39h4M178.52 85.24h4M178.52 193.83h4M179.64 85.62h4M179.64 193.06h4M180.77 86.03h4M180.77 192.06h4M181.9 86.45h4M181.9 190.85h4M183.03 86.88h4M183.03 189.5h4M184.16 87.33h4M184.16 188.1h4M185.28 87.79h4M185.28 186.73h4M186.41 88.26h4M186.41 185.46h4M187.54 88.73h4M187.54 184.37h4M188.67 89.2h4M188.67 183.55h4M189.8 89.68h4M189.8 182.97h4M190.92 90.16h4M190.92 182.55h4M192.05 90.66h4M192.05 182.21h4M193.18 91.16h4M193.18 181.9h4M194.31 91.69h4M194.31 181.6h4M195.44 92.22h4M195.44 181.3h4M196.56 92.76h4M196.56 181h4M197.69 93.31h4M197.69 180.71h4M198.82 93.85h4M198.82 180.43h4M199.95 94.4h4M199.95 180.17h4M201.08 94.94h4M201.08 179.91h4M202.2 95.47h4M202.2 179.66h4M203.33 95.98h4M203.33 179.43h4M204.46 96.48h4M204.46 179.24h4M205.59 96.95h4M205.59 179.15h4M206.72 97.41h4M206.72 179.19h4M207.84 97.86h4M207.84 179.35h4M208.97 98.3h4M208.97 179.59h4M210.1 98.74h4M210.1 179.87h4M211.23 99.17h4M211.23 180.17h4M212.36 99.61h4M212.36 180.52h4M213.48 100.04h4M213.48 180.91h4M214.61 100.48h4M214.61 181.34h4M215.74 100.93h4M215.74 181.82h4M216.87 101.37h4M216.87 182.3h4M218 101.83h4M218 182.8h4M219.12 102.28h4M219.12 183.3h4M220.25 102.74h4M220.25 183.8h4M221.38 103.2h4M221.38 184.31h4M222.51 103.67h4M222.51 184.85h4M223.64 104.13h4M223.64 185.42h4M224.76 104.6h4M224.76 186.03h4M225.89 105.08h4M225.89 186.65h4M227.02 105.56h4M227.02 187.29h4M228.15 106.05h4M228.15 187.93h4M229.28 106.55h4M229.28 188.58h4M230.4 107.05h4M230.4 189.22h4M231.53 107.56h4M231.53 189.88h4M232.66 108.08h4M232.66 190.54h4M233.79 108.6h4M233.79 191.22h4M234.92 109.13h4M234.92 191.92h4M236.04 109.67h4M236.04 192.62h4M237.17 110.23h4M237.17 193.33h4M238.3 110.82h4M238.3 194.04h4M239.43 111.44h4M239.43 194.75h4M240.56 112.07h4M240.56 195.47h4M241.68 112.73h4M241.68 196.19h4M242.81 113.39h4M242.81 196.93h4M243.94 114.06h4M243.94 197.7h4M245.07 114.73h4M245.07 198.49h4M246.2 115.4h4M246.2 199.31h4M247.32 116.05h4M247.32 200.22h4M248.45 116.7h4M248.45 201.35h4M249.58 117.34h4M249.58 202.9h4M250.71 117.98h4M250.71 204.98h4M251.84 118.6h4M251.84 207.47h4M252.96 119.22h4M252.96 210.03h4M254.09 119.84h4M254.09 212.33h4M255.22 120.44h4M255.22 214.2h4M256.35 121.03h4M256.35 215.71h4M257.48 121.6h4M257.48 216.99h4M258.6 122.15h4M258.6 218.11h4M259.73 122.67h4M259.73 219.07h4M260.86 123.18h4M260.86 219.81h4M261.99 123.67h4M261.99 220.38h4M263.12 124.16h4M263.12 220.83h4M264.24 124.64h4M264.24 221.23h4M265.37 125.12h4M265.37 221.61h4M266.5 125.61h4M266.5 222h4M267.63 126.1h4M267.63 222.4h4M268.76 126.6h4M268.76 222.81h4M269.88 127.12h4M269.88 223.22h4M271.01 127.67h4M271.01 223.65h4M272.14 128.25h4M272.14 224.09h4M273.27 128.85h4M273.27 224.55h4M274.4 129.48h4M274.4 225.02h4M275.52 130.11h4M275.52 225.5h4M276.65 130.76h4M276.65 225.98h4M277.78 131.41h4M277.78 226.45h4M278.91 132.07h4M278.91 226.89h4M280.04 132.75h4M280.04 227.31h4M281.16 133.46h4M281.16 227.71h4M282.29 134.2h4M282.29 228.09h4M283.42 134.99h4M283.42 228.45h4M284.55 135.83h4M284.55 228.78h4M285.68 136.71h4M285.68 229.08h4M286.8 137.61h4M286.8 229.34h4M287.93 138.53h4M287.93 229.58h4M289.06 139.45h4M289.06 229.8h4M290.19 140.37h4M290.19 230h4M291.32 141.26h4M291.32 230.19h4M292.44 142.1h4M292.44 230.35h4M293.57 142.88h4M293.57 230.49h4M294.7 143.6h4M294.7 230.63h4M295.83 144.25h4M295.83 230.77h4M296.96 144.85h4M296.96 230.94h4M298.08 145.4h4M298.08 231.16h4M299.21 145.93h4M299.21 231.44h4M300.34 146.45h4M300.34 231.76h4M301.47 146.95h4M301.47 232.11h4M302.6 147.44h4M302.6 232.45h4M303.72 147.92h4M303.72 232.79h4M304.85 148.37h4M304.85 233.12h4M305.98 148.8h4M305.98 233.44h4M307.11 149.19h4M307.11 233.76h4M308.24 149.55h4M308.24 234.08h4M309.36 149.89h4M309.36 234.41h4M310.49 150.22h4M310.49 234.73h4M311.62 150.53h4M311.62 235.05h4M312.75 150.85h4M312.75 235.37h4M313.88 151.18h4M313.88 235.67h4M315 151.51h4M315 235.96h4M316.13 151.87h4M316.13 236.19h4M317.26 152.25h4M317.26 236.38h4M318.39 152.66h4M318.39 236.53h4M319.52 153.1h4M319.52 236.65h4M320.64 153.54h4M320.64 236.78h4M321.77 154.01h4M321.77 236.94h4M322.9 154.47h4M322.9 237.16h4M324.03 154.94h4M324.03 237.46h4M325.16 155.42h4M325.16 237.87h4M326.28 155.89h4M326.28 238.4h4M327.41 156.36h4M327.41 239.04h4M328.54 156.84h4M328.54 239.76h4M329.67 157.32h4M329.67 240.53h4M330.8 157.81h4M330.8 241.34h4M331.92 158.31h4M331.92 242.18h4M333.05 158.83h4M333.05 243.06h4M334.18 159.37h4M334.18 243.95h4M335.31 159.93h4M335.31 244.85h4M336.44 160.49h4M336.44 245.75h4M337.56 161.07h4M337.56 246.64h4M338.69 161.64h4M338.69 247.54h4M339.82 162.2h4M339.82 248.43h4M340.95 162.73h4M340.95 249.31h4M342.08 163.23h4M342.08 250.2h4M343.2 163.66h4M343.2 251.07h4M344.33 164.02h4M344.33 251.93h4M345.46 164.3h4M345.46 252.76h4M346.59 164.52h4M346.59 253.57h4M347.72 164.69h4M347.72 254.36h4M348.84 164.82h4M348.84 255.15h4M349.97 164.95h4M349.97 255.97h4M351.1 165.06h4M351.1 256.83h4M352.23 165.19h4M352.23 257.72h4M353.36 165.34h4M354.48 165.53h4M355.61 165.76h4M356.74 166.06h4M357.87 166.4h4M359 166.79h4M360.12 167.22h4M361.25 167.66h4M362.38 168.12h4M363.51 168.59h4M364.64 169.07h4M365.76 169.57h4M366.89 170.09h4M368.02 170.63h4M369.15 171.2h4M370.28 171.78h4M371.4 172.37h4M372.53 172.98h4M373.66 173.59h4M374.79 174.23h4M375.92 174.88h4M377.04 175.58h4M378.17 176.32h4M379.3 177.11h4M380.43 177.95h4M381.56 178.81h4M382.68 179.7h4M383.81 180.58h4M384.94 181.45h4M386.07 182.29h4M387.2 183.07h4M388.32 183.8h4M389.45 184.46h4M390.58 185.06h4M391.71 185.63h4M392.84 186.18h4M393.96 186.72h4M395.09 187.29h4M396.22 187.9h4M397.35 188.58h4M398.48 189.33h4M399.6 190.16h4M400.73 191.06h4M401.86 192h4M402.99 192.98h4M404.12 193.98h4M405.24 194.98h4M406.37 195.99h4M407.5 197h4"/><path stroke-width="1" stroke-opacity="0.85" d="M69.5 84.96l3.2 3.2M69.5 88.16l3.2 -3.2M70.63 85.66l3.2 3.2M70.63 88.86l3.2 -3.2M71.76 86.8l3.2 3.2M71.76 90l3.2 -3.2M72.88 87.46l3.2 3.2M72.88 90.66l3.2 -3.2M74.01 88.12l3.2 3.2M74.01 91.32l3.2 -3.2M75.14 89.37l3.2 3.2M75.14 92.57l3.2 -3.2M76.27 89.78l3.2 3.2M76.27 92.98l3.2 -3.2M77.4 90.56l3.2 3.2M77.4 93.76l3.2 -3.2M78.52 91.41l3.2 3.2M78.52 94.61l3.2 -3.2M79.65 92.01l3.2 3.2M79.65 95.21l3.2 -3.2M80.78 93.07l3.2 3.2M80.78 96.27l3.2 -3.2M81.91 94.5l3.2 3.2M81.91 97.7l3.2 -3.2M83.04 94.63l3.2 3.2M83.04 97.83l3.2 -3.2M84.16 95.68l3.2 3.2M84.16 98.88l3.2 -3.2M85.29 96.22l3.2 3.2M85.29 99.42l3.2 -3.2M86.42 97.16l3.2 3.2M86.42 100.36l3.2 -3.2M87.55 98.51l3.2 3.2M87.55 101.71l3.2 -3.2M88.68 99.17l3.2 3.2M88.68 102.37l3.2 -3.2M89.8 99.62l3.2 3.2M89.8 102.82l3.2 -3.2M90.93 100.59l3.2 3.2M90.93 103.79l3.2 -3.2M92.06 101.2l3.2 3.2M92.06 104.4l3.2 -3.2M93.19 102.03l3.2 3.2M93.19 105.23l3.2 -3.2M94.32 102.81l3.2 3.2M94.32 106.01l3.2 -3.2M95.44 103.63l3.2 3.2M95.44 106.83l3.2 -3.2M96.57 104.75l3.2 3.2M96.57 107.95l3.2 -3.2M97.7 105.63l3.2 3.2M97.7 108.83l3.2 -3.2M98.83 106.41l3.2 3.2M98.83 109.61l3.2 -3.2M99.96 107.03l3.2 3.2M99.96 110.23l3.2 -3.2M101.08 107.52l3.2 3.2M101.08 110.72l3.2 -3.2M102.21 108.62l3.2 3.2M102.21 111.82l3.2 -3.2M103.34 109.18l3.2 3.2M103.34 112.38l3.2 -3.2M104.47 110.42l3.2 3.2M104.47 113.62l3.2 -3.2M105.6 111.11l3.2 3.2M105.6 114.31l3.2 -3.2M106.72 111.94l3.2 3.2M106.72 115.14l3.2 -3.2M107.85 112.45l3.2 3.2M107.85 115.65l3.2 -3.2M108.98 112.86l3.2 3.2M108.98 116.06l3.2 -3.2M110.11 114.33l3.2 3.2M110.11 117.53l3.2 -3.2M111.24 115.18l3.2 3.2M111.24 118.38l3.2 -3.2M112.36 115.28l3.2 3.2M112.36 118.48l3.2 -3.2M113.49 116.47l3.2 3.2M113.49 119.67l3.2 -3.2M114.62 117.51l3.2 3.2M114.62 120.71l3.2 -3.2M115.75 117.71l3.2 3.2M115.75 120.91l3.2 -3.2M116.88 119.19l3.2 3.2M116.88 122.39l3.2 -3.2M118 119.43l3.2 3.2M118 122.63l3.2 -3.2M119.13 120.02l3.2 3.2M119.13 123.22l3.2 -3.2M120.26 121.4l3.2 3.2M120.26 124.6l3.2 -3.2M121.39 121.9l3.2 3.2M121.39 125.1l3.2 -3.2M122.52 122.42l3.2 3.2M122.52 125.62l3.2 -3.2M123.64 123.55l3.2 3.2M123.64 126.75l3.2 -3.2M124.77 123.57l3.2 3.2M124.77 126.77l3.2 -3.2M125.9 125.22l3.2 3.2M125.9 128.42l3.2 -3.2M127.03 125.28l3.2 3.2M127.03 128.48l3.2 -3.2M128.16 126.26l3.2 3.2M128.16 129.46l3.2 -3.2M129.28 126.8l3.2 3.2M129.28 130l3.2 -3.2M130.41 127.7l3.2 3.2M130.41 130.9l3.2 -3.2M131.54 128.5l3.2 3.2M131.54 131.7l3.2 -3.2M132.67 128.75l3.2 3.2M132.67 131.95l3.2 -3.2M133.8 129.83l3.2 3.2M133.8 133.03l3.2 -3.2M134.92 130.14l3.2 3.2M134.92 133.34l3.2 -3.2M136.05 130.73l3.2 3.2M136.05 133.93l3.2 -3.2M137.18 131.84l3.2 3.2M137.18 135.04l3.2 -3.2M138.31 132.38l3.2 3.2M138.31 135.58l3.2 -3.2M139.44 132.14l3.2 3.2M139.44 135.34l3.2 -3.2M140.56 132.38l3.2 3.2M140.56 135.58l3.2 -3.2M141.69 132.63l3.2 3.2M141.69 135.83l3.2 -3.2M142.82 132.86l3.2 3.2M142.82 136.06l3.2 -3.2M143.95 132.13l3.2 3.2M143.95 135.33l3.2 -3.2M145.08 132.68l3.2 3.2M145.08 135.88l3.2 -3.2M146.2 131.49l3.2 3.2M146.2 134.69l3.2 -3.2M147.33 131.53l3.2 3.2M147.33 134.73l3.2 -3.2M148.46 130.98l3.2 3.2M148.46 134.18l3.2 -3.2M149.59 130.98l3.2 3.2M149.59 134.18l3.2 -3.2M150.72 131.31l3.2 3.2M150.72 134.51l3.2 -3.2M151.84 130.72l3.2 3.2M151.84 133.92l3.2 -3.2M152.97 130.89l3.2 3.2M152.97 134.09l3.2 -3.2M154.1 131.07l3.2 3.2M154.1 134.27l3.2 -3.2M155.23 131.16l3.2 3.2M155.23 134.36l3.2 -3.2M156.36 131.36l3.2 3.2M156.36 134.56l3.2 -3.2M157.48 131.44l3.2 3.2M157.48 134.64l3.2 -3.2M158.61 132.05l3.2 3.2M158.61 135.25l3.2 -3.2M159.74 132.96l3.2 3.2M159.74 136.16l3.2 -3.2M160.87 133.19l3.2 3.2M160.87 136.39l3.2 -3.2M162 133.4l3.2 3.2M162 136.6l3.2 -3.2M163.12 134.76l3.2 3.2M163.12 137.96l3.2 -3.2M164.25 134.86l3.2 3.2M164.25 138.06l3.2 -3.2M165.38 135.4l3.2 3.2M165.38 138.6l3.2 -3.2M166.51 136.1l3.2 3.2M166.51 139.3l3.2 -3.2M167.64 136.59l3.2 3.2M167.64 139.79l3.2 -3.2M168.76 136.72l3.2 3.2M168.76 139.92l3.2 -3.2M169.89 137.5l3.2 3.2M169.89 140.7l3.2 -3.2M171.02 138.2l3.2 3.2M171.02 141.4l3.2 -3.2M172.15 138.01l3.2 3.2M172.15 141.21l3.2 -3.2M173.28 138.51l3.2 3.2M173.28 141.71l3.2 -3.2M174.4 138.42l3.2 3.2M174.4 141.62l3.2 -3.2M175.53 139.03l3.2 3.2M175.53 142.23l3.2 -3.2M176.66 138.9l3.2 3.2M176.66 142.1l3.2 -3.2M177.79 138.93l3.2 3.2M177.79 142.13l3.2 -3.2M178.92 139.01l3.2 3.2M178.92 142.21l3.2 -3.2M180.04 139.41l3.2 3.2M180.04 142.61l3.2 -3.2M181.17 138.12l3.2 3.2M181.17 141.32l3.2 -3.2M182.3 137.05l3.2 3.2M182.3 140.25l3.2 -3.2M183.43 136.58l3.2 3.2M183.43 139.78l3.2 -3.2M184.56 136.9l3.2 3.2M184.56 140.1l3.2 -3.2M185.68 136.08l3.2 3.2M185.68 139.28l3.2 -3.2M186.81 136.13l3.2 3.2M186.81 139.33l3.2 -3.2M187.94 136l3.2 3.2M187.94 139.2l3.2 -3.2M189.07 135.78l3.2 3.2M189.07 138.98l3.2 -3.2M190.2 135.6l3.2 3.2M190.2 138.8l3.2 -3.2M191.32 135.2l3.2 3.2M191.32 138.4l3.2 -3.2M192.45 135.46l3.2 3.2M192.45 138.66l3.2 -3.2M193.58 135.26l3.2 3.2M193.58 138.46l3.2 -3.2M194.71 135.71l3.2 3.2M194.71 138.91l3.2 -3.2M195.84 135.63l3.2 3.2M195.84 138.83l3.2 -3.2M196.96 135.81l3.2 3.2M196.96 139.01l3.2 -3.2M198.09 135.41l3.2 3.2M198.09 138.61l3.2 -3.2M199.22 135.57l3.2 3.2M199.22 138.77l3.2 -3.2M200.35 135.96l3.2 3.2M200.35 139.16l3.2 -3.2M201.48 135.94l3.2 3.2M201.48 139.14l3.2 -3.2M202.6 136.4l3.2 3.2M202.6 139.6l3.2 -3.2M203.73 136.36l3.2 3.2M203.73 139.56l3.2 -3.2M204.86 136.39l3.2 3.2M204.86 139.59l3.2 -3.2M205.99 137.12l3.2 3.2M205.99 140.32l3.2 -3.2M207.12 136.94l3.2 3.2M207.12 140.14l3.2 -3.2M208.24 137.16l3.2 3.2M208.24 140.36l3.2 -3.2M209.37 138.09l3.2 3.2M209.37 141.29l3.2 -3.2M210.5 137.82l3.2 3.2M210.5 141.02l3.2 -3.2M211.63 138.28l3.2 3.2M211.63 141.48l3.2 -3.2M212.76 138.9l3.2 3.2M212.76 142.1l3.2 -3.2M213.88 139.06l3.2 3.2M213.88 142.26l3.2 -3.2M215.01 140.37l3.2 3.2M215.01 143.57l3.2 -3.2M216.14 140.76l3.2 3.2M216.14 143.96l3.2 -3.2M217.27 141.77l3.2 3.2M217.27 144.97l3.2 -3.2M218.4 142.64l3.2 3.2M218.4 145.84l3.2 -3.2M219.52 143.39l3.2 3.2M219.52 146.59l3.2 -3.2M220.65 144.13l3.2 3.2M220.65 147.33l3.2 -3.2M221.78 144.97l3.2 3.2M221.78 148.17l3.2 -3.2M222.91 145.52l3.2 3.2M222.91 148.72l3.2 -3.2M224.04 146.35l3.2 3.2M224.04 149.55l3.2 -3.2M225.16 146.8l3.2 3.2M225.16 150l3.2 -3.2M226.29 147.42l3.2 3.2M226.29 150.62l3.2 -3.2M227.42 148.79l3.2 3.2M227.42 151.99l3.2 -3.2M228.55 148.64l3.2 3.2M228.55 151.84l3.2 -3.2M229.68 149.42l3.2 3.2M229.68 152.62l3.2 -3.2M230.8 150.08l3.2 3.2M230.8 153.28l3.2 -3.2M231.93 149.78l3.2 3.2M231.93 152.98l3.2 -3.2M233.06 151.05l3.2 3.2M233.06 154.25l3.2 -3.2M234.19 151.87l3.2 3.2M234.19 155.07l3.2 -3.2M235.32 152.67l3.2 3.2M235.32 155.87l3.2 -3.2M236.44 152.94l3.2 3.2M236.44 156.14l3.2 -3.2M237.57 154.52l3.2 3.2M237.57 157.72l3.2 -3.2M238.7 154.6l3.2 3.2M238.7 157.8l3.2 -3.2M239.83 156.29l3.2 3.2M239.83 159.49l3.2 -3.2M240.96 156.5l3.2 3.2M240.96 159.7l3.2 -3.2M242.08 157.65l3.2 3.2M242.08 160.85l3.2 -3.2M243.21 158.09l3.2 3.2M243.21 161.29l3.2 -3.2M244.34 159.13l3.2 3.2M244.34 162.33l3.2 -3.2M245.47 160l3.2 3.2M245.47 163.2l3.2 -3.2M246.6 160.97l3.2 3.2M246.6 164.17l3.2 -3.2M247.72 161.86l3.2 3.2M247.72 165.06l3.2 -3.2M248.85 162.97l3.2 3.2M248.85 166.17l3.2 -3.2M249.98 163.73l3.2 3.2M249.98 166.93l3.2 -3.2M251.11 164.35l3.2 3.2M251.11 167.55l3.2 -3.2M252.24 165.41l3.2 3.2M252.24 168.61l3.2 -3.2M253.36 166.22l3.2 3.2M253.36 169.42l3.2 -3.2M254.49 167.14l3.2 3.2M254.49 170.34l3.2 -3.2M255.62 167.75l3.2 3.2M255.62 170.95l3.2 -3.2M256.75 168.43l3.2 3.2M256.75 171.63l3.2 -3.2M257.88 168.56l3.2 3.2M257.88 171.76l3.2 -3.2M259 169.61l3.2 3.2M259 172.81l3.2 -3.2M260.13 170.44l3.2 3.2M260.13 173.64l3.2 -3.2M261.26 170.36l3.2 3.2M261.26 173.56l3.2 -3.2M262.39 171.69l3.2 3.2M262.39 174.89l3.2 -3.2M263.52 171.96l3.2 3.2M263.52 175.16l3.2 -3.2M264.64 172.42l3.2 3.2M264.64 175.62l3.2 -3.2M265.77 172.61l3.2 3.2M265.77 175.81l3.2 -3.2M266.9 173.91l3.2 3.2M266.9 177.11l3.2 -3.2M268.03 173.97l3.2 3.2M268.03 177.17l3.2 -3.2M269.16 174.65l3.2 3.2M269.16 177.85l3.2 -3.2M270.28 175.48l3.2 3.2M270.28 178.68l3.2 -3.2M271.41 175.65l3.2 3.2M271.41 178.85l3.2 -3.2M272.54 176.22l3.2 3.2M272.54 179.42l3.2 -3.2M273.67 176.75l3.2 3.2M273.67 179.95l3.2 -3.2M274.8 177.57l3.2 3.2M274.8 180.77l3.2 -3.2M275.92 178.3l3.2 3.2M275.92 181.5l3.2 -3.2M277.05 178.79l3.2 3.2M277.05 181.99l3.2 -3.2M278.18 179.3l3.2 3.2M278.18 182.5l3.2 -3.2M279.31 179.59l3.2 3.2M279.31 182.79l3.2 -3.2M280.44 180.18l3.2 3.2M280.44 183.38l3.2 -3.2M281.56 180.43l3.2 3.2M281.56 183.63l3.2 -3.2M282.69 181.56l3.2 3.2M282.69 184.76l3.2 -3.2M283.82 181.58l3.2 3.2M283.82 184.78l3.2 -3.2M284.95 181.5l3.2 3.2M284.95 184.7l3.2 -3.2M286.08 182.18l3.2 3.2M286.08 185.38l3.2 -3.2M287.2 183.3l3.2 3.2M287.2 186.5l3.2 -3.2M288.33 182.99l3.2 3.2M288.33 186.19l3.2 -3.2M289.46 183.63l3.2 3.2M289.46 186.83l3.2 -3.2M290.59 184.22l3.2 3.2M290.59 187.42l3.2 -3.2M291.72 184.22l3.2 3.2M291.72 187.42l3.2 -3.2M292.84 185.13l3.2 3.2M292.84 188.33l3.2 -3.2M293.97 185.66l3.2 3.2M293.97 188.86l3.2 -3.2M295.1 185.4l3.2 3.2M295.1 188.6l3.2 -3.2M296.23 186.26l3.2 3.2M296.23 189.46l3.2 -3.2M297.36 186.13l3.2 3.2M297.36 189.33l3.2 -3.2M298.48 186.46l3.2 3.2M298.48 189.66l3.2 -3.2M299.61 187.12l3.2 3.2M299.61 190.32l3.2 -3.2M300.74 187.46l3.2 3.2M300.74 190.66l3.2 -3.2M301.87 187.59l3.2 3.2M301.87 190.79l3.2 -3.2M303 188.29l3.2 3.2M303 191.49l3.2 -3.2M304.12 188.05l3.2 3.2M304.12 191.25l3.2 -3.2M305.25 188.54l3.2 3.2M305.25 191.74l3.2 -3.2M306.38 188.83l3.2 3.2M306.38 192.03l3.2 -3.2M307.51 189.63l3.2 3.2M307.51 192.83l3.2 -3.2M308.64 189.99l3.2 3.2M308.64 193.19l3.2 -3.2M309.76 190.31l3.2 3.2M309.76 193.51l3.2 -3.2M310.89 190.17l3.2 3.2M310.89 193.37l3.2 -3.2M312.02 190.89l3.2 3.2M312.02 194.09l3.2 -3.2M313.15 191.33l3.2 3.2M313.15 194.53l3.2 -3.2M314.28 191.18l3.2 3.2M314.28 194.38l3.2 -3.2M315.4 191.74l3.2 3.2M315.4 194.94l3.2 -3.2M316.53 192.46l3.2 3.2M316.53 195.66l3.2 -3.2M317.66 192.82l3.2 3.2M317.66 196.02l3.2 -3.2M318.79 193.03l3.2 3.2M318.79 196.23l3.2 -3.2M319.92 193.41l3.2 3.2M319.92 196.61l3.2 -3.2M321.04 193.64l3.2 3.2M321.04 196.84l3.2 -3.2M322.17 193.88l3.2 3.2M322.17 197.08l3.2 -3.2M323.3 194.1l3.2 3.2M323.3 197.3l3.2 -3.2M324.43 194.19l3.2 3.2M324.43 197.39l3.2 -3.2M325.56 194.63l3.2 3.2M325.56 197.83l3.2 -3.2M326.68 194.89l3.2 3.2M326.68 198.09l3.2 -3.2M327.81 195.91l3.2 3.2M327.81 199.11l3.2 -3.2M328.94 195.82l3.2 3.2M328.94 199.02l3.2 -3.2M330.07 196.25l3.2 3.2M330.07 199.45l3.2 -3.2M331.2 196.74l3.2 3.2M331.2 199.94l3.2 -3.2M332.32 197.33l3.2 3.2M332.32 200.53l3.2 -3.2M333.45 197.86l3.2 3.2M333.45 201.06l3.2 -3.2M334.58 198.63l3.2 3.2M334.58 201.83l3.2 -3.2M335.71 199.05l3.2 3.2M335.71 202.25l3.2 -3.2M336.84 199.83l3.2 3.2M336.84 203.03l3.2 -3.2M337.96 200.03l3.2 3.2M337.96 203.23l3.2 -3.2M339.09 200.88l3.2 3.2M339.09 204.08l3.2 -3.2M340.22 201.62l3.2 3.2M340.22 204.82l3.2 -3.2M341.35 201.73l3.2 3.2M341.35 204.93l3.2 -3.2M342.48 202.68l3.2 3.2M342.48 205.88l3.2 -3.2M343.6 203.32l3.2 3.2M343.6 206.52l3.2 -3.2M344.73 203.8l3.2 3.2M344.73 207l3.2 -3.2M345.86 204.38l3.2 3.2M345.86 207.58l3.2 -3.2M346.99 204.65l3.2 3.2M346.99 207.85l3.2 -3.2M348.12 205.99l3.2 3.2M348.12 209.19l3.2 -3.2M349.24 206.02l3.2 3.2M349.24 209.22l3.2 -3.2M350.37 206.47l3.2 3.2M350.37 209.67l3.2 -3.2M351.5 207.46l3.2 3.2M351.5 210.66l3.2 -3.2M352.63 207.34l3.2 3.2M352.63 210.54l3.2 -3.2M353.76 208.55l3.2 3.2M353.76 211.75l3.2 -3.2M354.88 208.93l3.2 3.2M354.88 212.13l3.2 -3.2M356.01 209.47l3.2 3.2M356.01 212.67l3.2 -3.2M357.14 209.77l3.2 3.2M357.14 212.97l3.2 -3.2M358.27 209.96l3.2 3.2M358.27 213.16l3.2 -3.2M359.4 210.18l3.2 3.2M359.4 213.38l3.2 -3.2M360.52 211.36l3.2 3.2M360.52 214.56l3.2 -3.2M361.65 211.22l3.2 3.2M361.65 214.42l3.2 -3.2M362.78 211.6l3.2 3.2M362.78 214.8l3.2 -3.2M363.91 212.63l3.2 3.2M363.91 215.83l3.2 -3.2M365.04 212.68l3.2 3.2M365.04 215.88l3.2 -3.2M366.16 213.46l3.2 3.2M366.16 216.66l3.2 -3.2M367.29 214.15l3.2 3.2M367.29 217.35l3.2 -3.2M368.42 214.88l3.2 3.2M368.42 218.08l3.2 -3.2M369.55 215.35l3.2 3.2M369.55 218.55l3.2 -3.2M370.68 216.17l3.2 3.2M370.68 219.37l3.2 -3.2M371.8 217.32l3.2 3.2M371.8 220.52l3.2 -3.2M372.93 217.86l3.2 3.2M372.93 221.06l3.2 -3.2M374.06 217.56l3.2 3.2M374.06 220.76l3.2 -3.2M375.19 218.42l3.2 3.2M375.19 221.62l3.2 -3.2M376.32 219.57l3.2 3.2M376.32 222.77l3.2 -3.2M377.44 220.03l3.2 3.2M377.44 223.23l3.2 -3.2M378.57 220.54l3.2 3.2M378.57 223.74l3.2 -3.2M379.7 221.47l3.2 3.2M379.7 224.67l3.2 -3.2M380.83 221.34l3.2 3.2M380.83 224.54l3.2 -3.2M381.96 222.68l3.2 3.2M381.96 225.88l3.2 -3.2M383.08 223.04l3.2 3.2M383.08 226.24l3.2 -3.2M384.21 223.83l3.2 3.2M384.21 227.03l3.2 -3.2M385.34 224.49l3.2 3.2M385.34 227.69l3.2 -3.2M386.47 225.4l3.2 3.2M386.47 228.6l3.2 -3.2M387.6 225.89l3.2 3.2M387.6 229.09l3.2 -3.2M388.72 226.58l3.2 3.2M388.72 229.78l3.2 -3.2M389.85 227.68l3.2 3.2M389.85 230.88l3.2 -3.2M390.98 228.3l3.2 3.2M390.98 231.5l3.2 -3.2M392.11 228.71l3.2 3.2M392.11 231.91l3.2 -3.2M393.24 230.13l3.2 3.2M393.24 233.33l3.2 -3.2M394.36 230.87l3.2 3.2M394.36 234.07l3.2 -3.2M395.49 231.7l3.2 3.2M395.49 234.9l3.2 -3.2M396.62 232.14l3.2 3.2M396.62 235.34l3.2 -3.2M397.75 232.99l3.2 3.2M397.75 236.19l3.2 -3.2M398.88 233.58l3.2 3.2M398.88 236.78l3.2 -3.2M400 234.21l3.2 3.2M400 237.41l3.2 -3.2M401.13 235.25l3.2 3.2M401.13 238.45l3.2 -3.2M402.26 236.05l3.2 3.2M402.26 239.25l3.2 -3.2M403.39 236.62l3.2 3.2M403.39 239.82l3.2 -3.2M404.52 238.02l3.2 3.2M404.52 241.22l3.2 -3.2M405.64 237.94l3.2 3.2M405.64 241.14l3.2 -3.2M406.77 238.92l3.2 3.2M406.77 242.12l3.2 -3.2M407.9 239.73l3.2 3.2M407.9 242.93l3.2 -3.2"/></g>
<path d="M71.1 86.5L72.23 97.24L73.36 106.63L74.48 114.85L75.61 122.05L76.74 128.35L77.87 133.86L79 138.68L80.12 142.9L81.25 146.6L82.38 149.83L83.51 152.66L84.64 155.14L85.76 157.3L86.89 159.2L88.02 160.86L89.15 162.31L90.28 163.59L91.4 164.7L92.53 165.67L93.66 166.52L94.79 167.27L95.92 167.92L97.04 168.49L98.17 168.99L99.3 169.43L100.43 169.82L101.56 170.15L102.68 170.44L103.81 170.7L104.94 170.92L106.07 171.12L107.2 171.29L108.32 171.44L109.45 171.58L110.58 171.69L111.71 171.79L112.84 171.88L113.96 171.96L115.09 172.03L116.22 172.08L117.35 172.14L118.48 172.18L119.6 172.22L120.73 172.26L121.86 172.29L122.99 172.31L124.12 172.34L125.24 172.36L126.37 172.37L127.5 172.39L128.63 172.4L129.76 172.42L130.88 172.43L132.01 172.44L133.14 172.44L134.27 172.45L135.4 172.46L136.52 172.46L137.65 172.47L138.78 172.47L139.91 172.47L141.04 172.48L142.16 172.48L143.29 172.48L144.42 172.49L145.55 172.49L146.68 172.49L147.8 172.49L148.93 172.49L150.06 172.49L151.19 172.49L152.32 172.49L153.44 172.49L154.57 172.5L155.7 172.5L156.83 172.5L157.96 172.5L159.08 172.5L160.21 172.5L161.34 172.5L162.47 172.5L163.6 172.5L164.72 172.5L165.85 172.5L166.98 172.5L168.11 172.5L169.24 172.5L170.36 172.5L171.49 172.5L172.62 172.5L173.75 172.5L174.88 172.5L176 172.5L177.13 172.5L178.26 172.5L179.39 172.5L180.52 172.5L181.64 172.5L182.77 172.5L183.9 172.5L185.03 172.5L186.16 172.5L187.28 172.5L188.41 172.5L189.54 172.5L190.67 172.5L191.8 172.5L192.92 172.5L194.05 172.5L195.18 172.5L196.31 172.5L197.44 172.5L198.56 172.5L199.69 172.5L200.82 172.5L201.95 172.5L203.08 172.5L204.2 172.5L205.33 172.5L206.46 172.5L207.59 172.5L208.72 172.5L209.84 172.5L210.97 172.5L212.1 172.5L213.23 172.5L214.36 172.5L215.48 172.5L216.61 172.5L217.74 172.5L218.87 172.5L220 172.5L221.12 172.5L222.25 172.5L223.38 172.5L224.51 172.5L225.64 172.5L226.76 172.5L227.89 172.5L229.02 172.5L230.15 172.5L231.28 172.5L232.4 172.5L233.53 172.5L234.66 172.5L235.79 172.5L236.92 172.5L238.04 172.5L239.17 172.5L240.3 172.5L241.43 172.5L242.56 172.5L243.68 172.5L244.81 172.5L245.94 172.5L247.07 172.5L248.2 172.5L249.32 172.5L250.45 172.5L251.58 172.5L252.71 172.5L253.84 172.5L254.96 172.5L256.09 172.5L257.22 172.5L258.35 172.5L259.48 172.5L260.6 172.5L261.73 172.5L262.86 172.5L263.99 172.5L265.12 172.5L266.24 172.5L267.37 172.5L268.5 172.5L269.63 172.5L270.76 172.5L271.88 172.5L273.01 172.5L274.14 172.5L275.27 172.5L276.4 172.5L277.52 172.5L278.65 172.5L279.78 172.5L280.91 172.5L282.04 172.5L283.16 172.5L284.29 172.5L285.42 172.5L286.55 172.5L287.68 172.5L288.8 172.5L289.93 172.5L291.06 172.5L292.19 172.5L293.32 172.5L294.44 172.5L295.57 172.5L296.7 172.5L297.83 172.5L298.96 172.5L300.08 172.5L301.21 172.5L302.34 172.5L303.47 172.5L304.6 172.5L305.72 172.5L306.85 172.5L307.98 172.5L309.11 172.5L310.24 172.5L311.36 172.5L312.49 172.5L313.62 172.5L314.75 172.5L315.88 172.5L317 172.5L318.13 172.5L319.26 172.5L320.39 172.5L321.52 172.5L322.64 172.5L323.77 172.5L324.9 172.5L326.03 172.5L327.16 172.5L328.28 172.5L329.41 172.5L330.54 172.5L331.67 172.5L332.8 172.5L333.92 172.5L335.05 172.5L336.18 172.5L337.31 172.5L338.44 172.5L339.56 172.5L340.69 172.5L341.82 172.5L342.95 172.5L344.08 172.5L345.2 172.5L346.33 172.5L347.46 172.5L348.59 172.5L349.72 172.5L350.84 172.5L351.97 172.5L353.1 172.5L354.23 172.5L355.36 172.5L356.48 172.5L357.61 172.5L358.74 172.5L359.87 172.5L361 172.5L362.12 172.5L363.25 172.5L364.38 172.5L365.51 172.5L366.64 172.5L367.76 172.5L368.89 172.5L370.02 172.5L371.15 172.5L372.28 172.5L373.4 172.5L374.53 172.5L375.66 172.5L376.79 172.5L377.92 172.5L379.04 172.5L380.17 172.5L381.3 172.5L382.43 172.5L383.56 172.5L384.68 172.5L385.81 172.5L386.94 172.5L388.07 172.5L389.2 172.5L390.32 172.5L391.45 172.5L392.58 172.5L393.71 172.5L394.84 172.5L395.96 172.5L397.09 172.5L398.22 172.5L399.35 172.5L400.48 172.5L401.6 172.5L402.73 172.5L403.86 172.5L404.99 172.5L406.12 172.5L407.24 172.5L408.37 172.5L409.5 172.5" stroke="#56b4e9" stroke-width="3.2" stroke-dasharray="6.2 6.1" fill="none"/>
<path d="M71.1 86.5L72.23 88.2L73.36 89.87L74.48 91.51L75.61 93.11L76.74 94.68L77.87 96.22L79 97.74L80.12 99.22L81.25 100.67L82.38 102.09L83.51 103.48L84.64 104.85L85.76 106.19L86.89 107.5L88.02 108.79L89.15 110.05L90.28 111.29L91.4 112.5L92.53 113.69L93.66 114.85L94.79 115.99L95.92 117.11L97.04 118.21L98.17 119.28L99.3 120.34L100.43 121.37L101.56 122.38L102.68 123.38L103.81 124.35L104.94 125.3L106.07 126.24L107.2 127.15L108.32 128.05L109.45 128.93L110.58 129.79L111.71 130.64L112.84 131.47L113.96 132.28L115.09 133.08L116.22 133.86L117.35 134.62L118.48 135.37L119.6 136.11L120.73 136.83L121.86 137.54L122.99 138.23L124.12 138.91L125.24 139.57L126.37 140.22L127.5 140.86L128.63 141.49L129.76 142.1L130.88 142.7L132.01 143.29L133.14 143.87L134.27 144.44L135.4 145L136.52 145.54L137.65 146.07L138.78 146.6L139.91 147.11L141.04 147.61L142.16 148.11L143.29 148.59L144.42 149.06L145.55 149.53L146.68 149.98L147.8 150.43L148.93 150.86L150.06 151.29L151.19 151.71L152.32 152.12L153.44 152.53L154.57 152.92L155.7 153.31L156.83 153.69L157.96 154.06L159.08 154.43L160.21 154.79L161.34 155.14L162.47 155.48L163.6 155.82L164.72 156.15L165.85 156.47L166.98 156.79L168.11 157.1L169.24 157.41L170.36 157.7L171.49 158L172.62 158.28L173.75 158.57L174.88 158.84L176 159.11L177.13 159.38L178.26 159.64L179.39 159.89L180.52 160.14L181.64 160.39L182.77 160.63L183.9 160.86L185.03 161.09L186.16 161.32L187.28 161.54L188.41 161.76L189.54 161.97L190.67 162.18L191.8 162.38L192.92 162.58L194.05 162.78L195.18 162.97L196.31 163.16L197.44 163.34L198.56 163.53L199.69 163.7L200.82 163.88L201.95 164.05L203.08 164.22L204.2 164.38L205.33 164.54L206.46 164.7L207.59 164.85L208.72 165L209.84 165.15L210.97 165.3L212.1 165.44L213.23 165.58L214.36 165.72L215.48 165.85L216.61 165.98L217.74 166.11L218.87 166.24L220 166.36L221.12 166.48L222.25 166.6L223.38 166.72L224.51 166.83L225.64 166.95L226.76 167.06L227.89 167.16L229.02 167.27L230.15 167.37L231.28 167.48L232.4 167.57L233.53 167.67L234.66 167.77L235.79 167.86L236.92 167.95L238.04 168.04L239.17 168.13L240.3 168.22L241.43 168.3L242.56 168.39L243.68 168.47L244.81 168.55L245.94 168.63L247.07 168.7L248.2 168.78L249.32 168.85L250.45 168.92L251.58 168.99L252.71 169.06L253.84 169.13L254.96 169.2L256.09 169.26L257.22 169.33L258.35 169.39L259.48 169.45L260.6 169.51L261.73 169.57L262.86 169.63L263.99 169.69L265.12 169.74L266.24 169.8L267.37 169.85L268.5 169.9L269.63 169.95L270.76 170L271.88 170.05L273.01 170.1L274.14 170.15L275.27 170.2L276.4 170.24L277.52 170.29L278.65 170.33L279.78 170.37L280.91 170.42L282.04 170.46L283.16 170.5L284.29 170.54L285.42 170.58L286.55 170.61L287.68 170.65L288.8 170.69L289.93 170.72L291.06 170.76L292.19 170.79L293.32 170.83L294.44 170.86L295.57 170.89L296.7 170.92L297.83 170.96L298.96 170.99L300.08 171.02L301.21 171.05L302.34 171.07L303.47 171.1L304.6 171.13L305.72 171.16L306.85 171.18L307.98 171.21L309.11 171.24L310.24 171.26L311.36 171.29L312.49 171.31L313.62 171.33L314.75 171.36L315.88 171.38L317 171.4L318.13 171.42L319.26 171.44L320.39 171.47L321.52 171.49L322.64 171.51L323.77 171.53L324.9 171.54L326.03 171.56L327.16 171.58L328.28 171.6L329.41 171.62L330.54 171.64L331.67 171.65L332.8 171.67L333.92 171.69L335.05 171.7L336.18 171.72L337.31 171.73L338.44 171.75L339.56 171.76L340.69 171.78L341.82 171.79L342.95 171.81L344.08 171.82L345.2 171.83L346.33 171.85L347.46 171.86L348.59 171.87L349.72 171.88L350.84 171.9L351.97 171.91L353.1 171.92L354.23 171.93L355.36 171.94L356.48 171.95L357.61 171.97L358.74 171.98L359.87 171.99L361 172L362.12 172.01L363.25 172.02L364.38 172.03L365.51 172.03L366.64 172.04L367.76 172.05L368.89 172.06L370.02 172.07L371.15 172.08L372.28 172.09L373.4 172.1L374.53 172.1L375.66 172.11L376.79 172.12L377.92 172.13L379.04 172.13L380.17 172.14L381.3 172.15L382.43 172.16L383.56 172.16L384.68 172.17L385.81 172.18L386.94 172.18L388.07 172.19L389.2 172.19L390.32 172.2L391.45 172.21L392.58 172.21L393.71 172.22L394.84 172.22L395.96 172.23L397.09 172.23L398.22 172.24L399.35 172.24L400.48 172.25L401.6 172.25L402.73 172.26L403.86 172.26L404.99 172.27L406.12 172.27L407.24 172.28L408.37 172.28L409.5 172.29" stroke="#e69f00" stroke-width="2.9" fill="none"/>
</g>
<!-- legend samples -->
<g fill="none">
<path d="M353.5 54.5H392.5M353.5 52.5v4M392.5 52.5v4M371.2 54.5h3.6M373 52.7v3.6" stroke="#9400d3" stroke-width="0.9" stroke-opacity="0.8"/>
<path d="M353.5 69H392.5M353.5 67v4M392.5 67v4" stroke="#009e73" stroke-dasharray="0.6 1.85" stroke-opacity="0.7"/>
<path d="M371.5 67.5l3 3M371.5 70.5l3 -3" stroke="#009e73"/>
<path d="M353.5 83.3H392.5" stroke="#56b4e9" stroke-width="3.2" stroke-dasharray="6.2 6.1"/>
<path d="M353.5 97.6H392.5" stroke="#e69f00" stroke-width="2.9"/>
</g>
<path d="M71.10 258.5v-4M71.10 43.5v4M127.50 258.5v-4M127.50 43.5v4M183.90 258.5v-4M183.90 43.5v4M240.30 258.5v-4M240.30 43.5v4M296.70 258.5v-4M296.70 43.5v4M353.10 258.5v-4M353.10 43.5v4M409.50 258.5v-4M409.50 43.5v4M71.1 258.50h4M409.5 258.50h-4M71.1 215.50h4M409.5 215.50h-4M71.1 172.50h4M409.5 172.50h-4M71.1 129.50h4M409.5 129.50h-4M71.1 86.50h4M409.5 86.50h-4M71.1 43.50h4M409.5 43.50h-4" stroke="#000" stroke-width="1" fill="none"/>
<rect x="71.1" y="43.5" width="338.4" height="215" fill="none" stroke="#000" stroke-width="1"/>
<g opacity="0.93">
<text x="72.90" y="278.4" text-anchor="middle">0</text><text x="129.30" y="278.4" text-anchor="middle">500</text><text x="185.70" y="278.4" text-anchor="middle">1000</text><text x="242.10" y="278.4" text-anchor="middle">1500</text><text x="298.50" y="278.4" text-anchor="middle">2000</text><text x="354.90" y="278.4" text-anchor="middle">2500</text><text x="411.30" y="278.4" text-anchor="middle">3000</text>
<text x="62" y="263.70" text-anchor="end">-1</text><text x="62" y="220.70" text-anchor="end">-0.5</text><text x="62" y="177.70" text-anchor="end">0</text><text x="62" y="134.70" text-anchor="end">0.5</text><text x="62" y="91.70" text-anchor="end">1</text><text x="62" y="48.70" text-anchor="end">1.5</text>
<text x="240.2" y="24.8" text-anchor="middle">β=4.47 <tspan font-style="italic">L</tspan>=64 <tspan font-style="italic">m</tspan><tspan font-style="italic" font-size="11.7px" dy="4.2">ud</tspan><tspan dy="-4.2">=0.0030 </tspan><tspan font-style="italic">m</tspan><tspan font-style="italic" font-size="11.7px" dy="4.2">s</tspan><tspan dy="-4.2">=0.0150</tspan></text>
<text x="240.2" y="298.8" text-anchor="middle">Δ τ (MD time)</text>
<text transform="translate(17,151) rotate(-90)" text-anchor="middle">ρ(Δ τ)</text>
<text x="345" y="59.6" text-anchor="end">slab</text>
<text x="345" y="73.9" text-anchor="end">globalQ</text>
<text x="345" y="87.2" text-anchor="end">exp(-Δτ/τ<tspan font-size="11.7px" dy="3.5">int</tspan><tspan dy="-3.5">)</tspan></text>
<text x="345" y="101" text-anchor="end">exp(-Δτ/τ<tspan font-size="11.7px" dy="3.5">imp</tspan><tspan dy="-3.5">)</tspan></text>
</g>
</svg>
</body></html>
